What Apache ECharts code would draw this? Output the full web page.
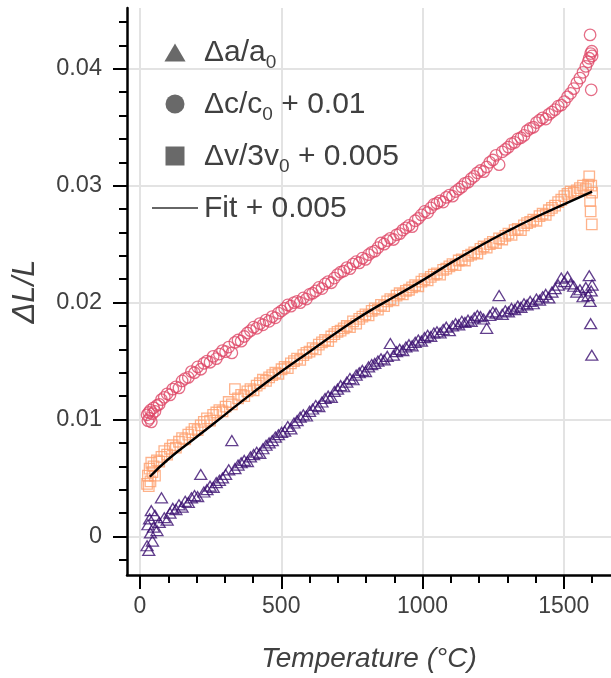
<!DOCTYPE html>
<html>
<head>
<meta charset="utf-8">
<script src="https://cdn.jsdelivr.net/npm/echarts@6/dist/echarts.min.js"></script>
<style>html,body{margin:0;padding:0;background:#fff}#c{width:611px;height:678px}</style>
</head>
<body>
<div id="c"></div>
<script>
// Temperatures (°C) shared by the three measured series
const temps = [
  25,28,31,34,37,40,44,48,53,60,
  68,76,86,96,106,116,127,138,149,160,
  171,182,193,204,215,226,237,248,259,270,
  281,292,303,314,325,336,347,358,369,380,
  391,402,413,424,435,446,457,468,479,490,
  501,512,523,534,545,556,567,578,589,600,
  611,622,633,644,655,666,677,688,699,710,
  721,732,743,754,765,776,787,798,809,820,
  831,842,853,864,875,886,897,908,919,930,
  941,952,963,974,985,996,1007,1018,1029,1040,
  1051,1062,1073,1084,1095,1106,1117,1128,1139,1150,
  1161,1172,1183,1194,1205,1216,1227,1238,1249,1260,
  1271,1282,1293,1304,1315,1326,1337,1348,1359,1370,
  1381,1392,1403,1414,1425,1436,1447,1458,1469,1480,
  1491,1502,1513,1524,1535,1546,1557,1568,1578,1586,
  1590,1593,1595,1597,1599,1600
];
// Δa/a0
const aVals = [
  -0.0008,0.0010,-0.0012,0.0015,0.0003,0.0022,-0.0004,0.0008,0.0018,0.0005,
  0.0012,0.0033,0.0016,0.0014,0.0020,0.0024,0.0023,0.0027,0.0025,0.0030,
  0.0029,0.0033,0.0035,0.0034,0.0053,0.0038,0.0040,0.0043,0.0042,0.0046,
  0.0048,0.0050,0.0053,0.0057,0.0082,0.0058,0.0061,0.0063,0.0065,0.0064,
  0.0068,0.0070,0.0072,0.0071,0.0075,0.0078,0.0080,0.0082,0.0085,0.0087,
  0.0089,0.0090,0.0094,0.0092,0.0097,0.0099,0.0102,0.0104,0.0103,0.0107,
  0.0109,0.0112,0.0111,0.0115,0.0118,0.0120,0.0119,0.0124,0.0126,0.0129,
  0.0128,0.0132,0.0135,0.0134,0.0138,0.0140,0.0142,0.0141,0.0145,0.0147,
  0.0148,0.0150,0.0152,0.0151,0.0154,0.0165,0.0155,0.0158,0.0160,0.0159,
  0.0162,0.0164,0.0163,0.0166,0.0168,0.0167,0.0170,0.0172,0.0171,0.0174,
  0.0175,0.0174,0.0177,0.0179,0.0176,0.0180,0.0182,0.0181,0.0184,0.0183,
  0.0185,0.0184,0.0187,0.0189,0.0188,0.0186,0.0178,0.0189,0.0192,0.0191,
  0.0206,0.0190,0.0193,0.0192,0.0195,0.0194,0.0197,0.0196,0.0199,0.0198,
  0.0201,0.0199,0.0203,0.0202,0.0205,0.0207,0.0204,0.0209,0.0212,0.0215,
  0.0221,0.0218,0.0222,0.0216,0.0214,0.0209,0.0211,0.0205,0.0213,0.0206,
  0.0223,0.0201,0.0182,0.0210,0.0155,0.0215
];
// Δc/c0 + 0.01
const cVals = [
  0.0104,0.0099,0.0106,0.0101,0.0108,0.0098,0.0105,0.0110,0.0107,0.0112,
  0.0113,0.0117,0.0119,0.0122,0.0121,0.0126,0.0128,0.0127,0.0133,0.0135,
  0.0136,0.0141,0.0140,0.0145,0.0143,0.0148,0.0150,0.0149,0.0154,0.0152,
  0.0156,0.0159,0.0158,0.0162,0.0157,0.0166,0.0168,0.0167,0.0171,0.0174,
  0.0176,0.0179,0.0178,0.0182,0.0181,0.0185,0.0184,0.0188,0.0187,0.0191,
  0.0193,0.0195,0.0198,0.0197,0.0200,0.0201,0.0200,0.0204,0.0203,0.0207,
  0.0208,0.0210,0.0213,0.0212,0.0216,0.0218,0.0217,0.0221,0.0224,0.0226,
  0.0227,0.0230,0.0229,0.0233,0.0235,0.0234,0.0238,0.0237,0.0241,0.0243,
  0.0244,0.0247,0.0251,0.0250,0.0253,0.0255,0.0254,0.0258,0.0259,0.0262,
  0.0264,0.0266,0.0265,0.0270,0.0272,0.0275,0.0278,0.0277,0.0281,0.0284,
  0.0285,0.0287,0.0286,0.0290,0.0292,0.0291,0.0295,0.0297,0.0299,0.0302,
  0.0303,0.0306,0.0308,0.0311,0.0313,0.0312,0.0316,0.0320,0.0322,0.0326,
  0.0318,0.0329,0.0331,0.0333,0.0336,0.0337,0.0340,0.0341,0.0343,0.0347,
  0.0349,0.0350,0.0354,0.0356,0.0358,0.0357,0.0361,0.0363,0.0365,0.0368,
  0.0369,0.0372,0.0376,0.0379,0.0383,0.0388,0.0392,0.0397,0.0402,0.0406,
  0.0409,0.0429,0.0413,0.0382,0.0415,0.0411
];
// Δv/3v0 + 0.005
const vVals = [
  0.0045,0.0052,0.0043,0.0058,0.0047,0.0063,0.0055,0.0060,0.0052,0.0065,
  0.0064,0.0068,0.0073,0.0070,0.0075,0.0078,0.0076,0.0081,0.0084,0.0083,
  0.0087,0.0089,0.0092,0.0091,0.0095,0.0098,0.0101,0.0099,0.0104,0.0106,
  0.0108,0.0107,0.0111,0.0115,0.0113,0.0126,0.0118,0.0121,0.0120,0.0124,
  0.0126,0.0125,0.0129,0.0131,0.0134,0.0133,0.0136,0.0138,0.0140,0.0139,
  0.0143,0.0145,0.0144,0.0148,0.0150,0.0152,0.0151,0.0155,0.0157,0.0158,
  0.0161,0.0160,0.0164,0.0166,0.0168,0.0167,0.0171,0.0173,0.0175,0.0176,
  0.0178,0.0180,0.0179,0.0184,0.0182,0.0186,0.0188,0.0190,0.0189,0.0193,
  0.0195,0.0194,0.0198,0.0197,0.0201,0.0203,0.0202,0.0206,0.0208,0.0207,
  0.0210,0.0211,0.0213,0.0215,0.0214,0.0218,0.0220,0.0219,0.0222,0.0224,
  0.0225,0.0224,0.0228,0.0229,0.0231,0.0233,0.0232,0.0236,0.0237,0.0236,
  0.0240,0.0241,0.0243,0.0242,0.0246,0.0248,0.0247,0.0250,0.0252,0.0251,
  0.0255,0.0254,0.0257,0.0259,0.0258,0.0262,0.0263,0.0262,0.0266,0.0268,
  0.0269,0.0271,0.0270,0.0274,0.0276,0.0275,0.0279,0.0281,0.0283,0.0286,
  0.0288,0.0291,0.0293,0.0295,0.0294,0.0296,0.0298,0.0300,0.0297,0.0301,
  0.0308,0.0287,0.0278,0.0300,0.0267,0.0294
];
// Fit + 0.005
const fitT = [35,100,200,300,400,500,600,700,800,900,1000,1100,1200,1300,1400,1500,1600];
const fitV = [0.0051,0.0066,0.0085,0.0104,0.0123,0.0141,0.0158,0.0175,0.0191,0.0205,0.0219,0.0234,0.0248,0.0261,0.0273,0.0284,0.0295];

const xTicks = [0,500,1000,1500];
const yTicks = [0,0.01,0.02,0.03,0.04];

const names = ['Δa/a0','Δc/c0 + 0.01','Δv/3v0 + 0.005','Fit + 0.005'];
const FONT = 'Liberation Sans';
const pair = (xs, ys) => xs.map((x, i) => [x, ys[i]]);

const chart = echarts.init(document.getElementById('c'), null, {renderer:'canvas'});
const legendRich = {
  n: {fontSize: 30, color: '#404040', fontFamily: FONT, lineHeight: 32, verticalAlign: 'bottom'},
  s: {fontSize: 19, color: '#404040', fontFamily: FONT, lineHeight: 18, verticalAlign: 'bottom', padding: [0,0,-4,0]}
};
const legendFmt = function (name) {
  if (name === names[0]) return '{n|Δa/a}{s|0}';
  if (name === names[1]) return '{n|Δc/c}{s|0}{n| + 0.01}';
  if (name === names[2]) return '{n|Δv/3v}{s|0}{n| + 0.005}';
  return '{n|Fit + 0.005}';
};
const scatterCommon = (color, symbol, size) => ({
  type: 'scatter', symbol: symbol, symbolSize: size,
  itemStyle: {color: 'transparent', borderColor: color, borderWidth: 1.3},
  emphasis: {disabled: true}, animation: false
});

chart.setOption({
  animation: false,
  backgroundColor: '#fff',
  grid: {left: 127, right: 0, top: 8, bottom: 100, containLabel: false},
  xAxis: {
    type: 'value', min: -46, max: 1667, splitNumber: 4,
    name: 'Temperature (°C)', nameLocation: 'middle', nameGap: 70,
    nameTextStyle: {fontFamily: FONT, fontSize: 28, fontStyle: 'italic', color: '#404040'},
    axisLine: {show: true, onZero: false, lineStyle: {color: '#000', width: 2.5}},
    axisTick: {show: true, inside: false, length: 14, lineStyle: {color: '#000', width: 2}, customValues: xTicks},
    minorTick: {show: true, splitNumber: 5, length: 8, lineStyle: {color: '#000', width: 2}},
    axisLabel: {customValues: xTicks, margin: 20, fontFamily: FONT, fontSize: 23, color: '#404040',
      formatter: v => String(Math.round(v))},
    splitLine: {show: true, lineStyle: {color: '#e3e3e3', width: 2}}
  },
  yAxis: {
    type: 'value', min: -0.0033, max: 0.0452, splitNumber: 5,
    name: 'ΔL/L', nameLocation: 'middle', nameGap: 86, nameRotate: 90,
    nameTextStyle: {fontFamily: FONT, fontSize: 31, fontStyle: 'italic', color: '#404040'},
    axisLine: {show: true, onZero: false, lineStyle: {color: '#000', width: 2.5}},
    axisTick: {show: true, inside: false, length: 14, lineStyle: {color: '#000', width: 2}, customValues: yTicks},
    minorTick: {show: true, splitNumber: 5, length: 8, lineStyle: {color: '#000', width: 2}},
    axisLabel: {customValues: yTicks, margin: 25, fontFamily: FONT, fontSize: 23.5, color: '#404040',
      formatter: v => (Math.abs(v) < 1e-9 ? '0' : String(Math.round(v*100)/100))},
    splitLine: {show: true, lineStyle: {color: '#e3e3e3', width: 2}}
  },
  legend: {
    orient: 'vertical', left: 147, top: 33, itemWidth: 46, itemHeight: 19, itemGap: 18,
    symbolKeepAspect: true,
    formatter: legendFmt, textStyle: {rich: legendRich, padding: [0,0,0,1]},
    selectedMode: false,
    data: [
      {name: names[0], icon: 'path://M10,0L10,0M10,1L20,18L0,18Z', itemStyle: {color: '#444', borderWidth: 0}},
      {name: names[1], icon: 'circle', itemStyle: {color: '#444', borderWidth: 0}},
      {name: names[2], icon: 'path://M0,0L18,0L18,18L0,18Z', itemStyle: {color: '#444', borderWidth: 0}},
      {name: names[3], icon: 'path://M0,0L46,0L46,1.5L0,1.5Z', itemStyle: {color: '#333', borderWidth: 0}}
    ]
  },
  series: [
    Object.assign({name: names[0], data: pair(temps, aVals), z: 2}, scatterCommon('#3b0f70', 'triangle', [12, 10])),
    Object.assign({name: names[1], data: pair(temps, cVals), z: 3}, scatterCommon('#de4968', 'circle', 11.5)),
    Object.assign({name: names[2], data: pair(temps, vVals), z: 4}, scatterCommon('#fe9f6d', 'rect', 10.5)),
    {name: names[3], type: 'line', data: pair(fitT, fitV), smooth: true, symbol: 'none', showSymbol: false,
     lineStyle: {color: '#000', width: 2.4}, itemStyle: {color: '#000'}, z: 5, animation: false}
  ]
});
</script>
</body>
</html>
